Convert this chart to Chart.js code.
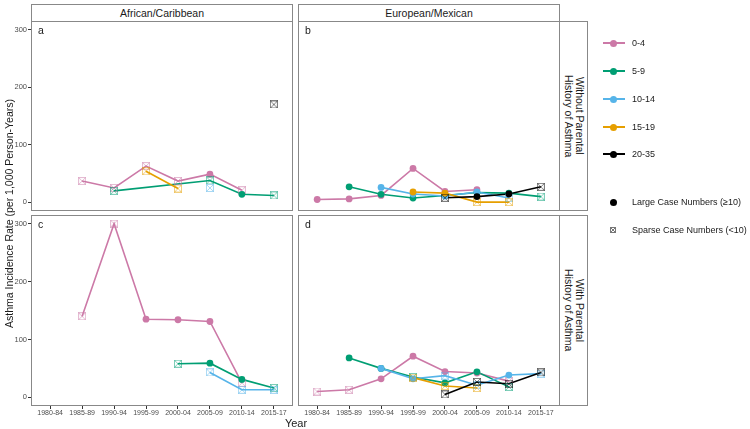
<!DOCTYPE html>
<html>
<head>
<meta charset="utf-8">
<script src="https://cdn.jsdelivr.net/npm/chart.js@4.4.1/dist/chart.umd.min.js"></script>
<style>
  body { margin: 0; background: #fff; font-family: "Liberation Sans", Arial, sans-serif; color: #1a1a1a; }
  #wrap { position: relative; width: 750px; height: 429px; overflow: hidden; }
  canvas, .strip, .lbl, .leg, .txt { position: absolute; }
  .strip { box-sizing: border-box; border: 1px solid #888; background: #fff; font-size: 10.5px;
           display: flex; align-items: center; justify-content: center; }
  .side { writing-mode: vertical-rl; text-align: center; line-height: 11px; }
  .lbl { font-size: 10.5px; line-height: 1; }
  .txt { font-size: 9px; line-height: 1; white-space: nowrap; }
  .ytitle { writing-mode: vertical-rl; transform: rotate(180deg); text-align: center; font-size: 10.5px; line-height: 12px; }
</style>
</head>
<body>
<div id="wrap">
  <div class="strip" style="left:31px;top:4px;width:262px;height:18px">African/Caribbean</div>
  <div class="strip" style="left:298px;top:4px;width:262px;height:18px">European/Mexican</div>
  <div class="strip side" style="left:559px;top:21px;width:29px;height:190px">Without Parental<br>History of Asthma</div>
  <div class="strip side" style="left:559px;top:215px;width:29px;height:191px">With Parental<br>History of Asthma</div>

  <canvas id="pa" width="293" height="190" style="left:0;top:21px"></canvas>
  <canvas id="pb" width="262" height="190" style="left:298px;top:21px"></canvas>
  <canvas id="pc" width="293" height="204" style="left:0;top:215px"></canvas>
  <canvas id="pd" width="262" height="204" style="left:298px;top:215px"></canvas>

  <div class="lbl" style="left:38px;top:25px">a</div>
  <div class="lbl" style="left:305px;top:25px">b</div>
  <div class="lbl" style="left:38px;top:219px">c</div>
  <div class="lbl" style="left:305px;top:219px">d</div>

  <div class="txt ytitle" style="left:3px;top:21px;width:12px;height:385px">Asthma Incidence Rate (per 1,000 Person-Years)</div>
  <div class="txt" style="left:276px;top:418px;width:40px;text-align:center;font-size:11px">Year</div>

  <div id="legend"></div>
</div>

<script>
// Dados
const years = ['1980-84', '1985-89', '1990-94', '1995-99', '2000-04', '2005-09', '2010-14', '2015-17'];
const ageGroups = ['0-4', '5-9', '10-14', '15-19', '20-35'];
const yTicks = [0, 100, 200, 300];

// a: African/Caribbean, sem histórico parental
const a04   = [null, 37, 25, 63, 37, 49, 21, null];
const a59   = [null, null, 20, null, null, 38, 14, 12];
const a1014 = [null, null, null, null, null, 25, null, null];
const a1519 = [null, null, null, 54, 24, null, null, null];
const a2035 = [null, null, null, null, null, null, null, 170];

// b: European/Mexican, sem histórico parental
const b04   = [5, 6, 12, 59, 19, 22, null, null];
const b59   = [null, 27, 14, 7.5, 12, 17, 16, 10];
const b1014 = [null, null, 26, 14.5, 11, 18, 7.5, null];
const b1519 = [null, null, null, 18, 16, 0.5, 0.5, null];
const b2035 = [null, null, null, null, 8, 10, 14.5, 27];

// c: African/Caribbean, com histórico parental
const c04   = [null, 140, 300, 135, 134, 131, 25, null];
const c59   = [null, null, null, null, 58, 59, 31, 16];
const c1014 = [null, null, null, null, null, 43, 13, 13];
const c1519 = [null, null, null, null, null, null, null, null];
const c2035 = [null, null, null, null, null, null, null, null];

// d: European/Mexican, com histórico parental
const d04   = [10, 13, 32, 71, 44.5, 42, 28, null];
const d59   = [null, 68, 50, 35, 25, 44, 18, null];
const d1014 = [null, null, 50, 32, 37.5, 21, 38.5, 41];
const d1519 = [null, null, null, 34, 19.5, 16, null, null];
const d2035 = [null, null, null, null, 5, 26.5, 23.5, 43];

// casos esparsos (<10) = 1
const a04s = [0, 1, 1, 1, 1, 0, 1, 0], a59s = [0, 0, 1, 0, 0, 1, 0, 1], a1014s = [0, 0, 0, 0, 0, 1, 0, 0];
const a1519s = [0, 0, 0, 1, 1, 0, 0, 0], a2035s = [0, 0, 0, 0, 0, 0, 0, 1];
const b04s = [0, 0, 0, 0, 0, 0, 0, 0], b59s = [0, 0, 0, 0, 0, 0, 0, 1], b1014s = [0, 0, 0, 0, 0, 0, 1, 0];
const b1519s = [0, 0, 0, 0, 0, 1, 1, 0], b2035s = [0, 0, 0, 0, 1, 0, 0, 1];
const c04s = [0, 1, 1, 0, 0, 0, 1, 0], c59s = [0, 0, 0, 0, 1, 0, 0, 1], c1014s = [0, 0, 0, 0, 0, 1, 1, 1];
const c1519s = [0, 0, 0, 0, 0, 0, 0, 0], c2035s = [0, 0, 0, 0, 0, 0, 0, 0];
const d04s = [1, 1, 0, 0, 0, 0, 1, 0], d59s = [0, 0, 0, 1, 0, 0, 1, 0], d1014s = [0, 0, 0, 0, 1, 1, 0, 1];
const d1519s = [0, 0, 0, 1, 1, 1, 0, 0], d2035s = [0, 0, 0, 0, 1, 1, 1, 1];

const colors = ['#CC79A7', '#009E73', '#56B4E9', '#E69F00', '#000000'];

function rgba(hex, a) {
    const n = parseInt(hex.slice(1), 16);
    return 'rgba(' + (n >> 16) + ',' + ((n >> 8) & 255) + ',' + (n & 255) + ',' + a + ')';
}

// marcador quadrado com X (casos esparsos)
function boxCross(color, size) {
    const c = document.createElement('canvas');
    c.width = size; c.height = size;
    const g = c.getContext('2d');
    g.strokeStyle = color;
    g.lineWidth = 1;
    const e = size - 0.5;
    g.strokeRect(0.5, 0.5, size - 1, size - 1);
    g.beginPath();
    g.moveTo(0.5, 0.5); g.lineTo(e, e);
    g.moveTo(e, 0.5); g.lineTo(0.5, e);
    g.stroke();
    return c;
}
const sparseMarks = colors.map(c => boxCross(rgba(c, 0.5), 8));

const frame = {
    id: 'frame',
    afterDraw(chart) {
        const a = chart.chartArea, ctx = chart.ctx;
        ctx.save();
        ctx.strokeStyle = '#888';
        ctx.lineWidth = 1;
        ctx.strokeRect(a.left + 0.5, a.top + 0.5, a.right - a.left - 1, a.bottom - a.top - 1);
        ctx.restore();
    }
};

function createPanel(id, values, sparse, showX, showY) {
    const datasets = [];
    values.forEach((vals, g) => {
        const pts = [], styles = [];
        vals.forEach((v, i) => {
            if (v !== null) {
                pts.push({ x: i, y: v });
                styles.push(sparse[g][i] ? sparseMarks[g] : 'circle');
            }
        });
        datasets.push({ data: pts, borderColor: colors[g], borderWidth: 1.6, pointRadius: 0, order: 10 - g });
        datasets.push({ data: pts, showLine: false, backgroundColor: colors[g], pointStyle: styles,
                        pointRadius: 3.4, pointBorderWidth: 0, order: 5 - g });
    });

    new Chart(document.getElementById(id), {
        type: 'line',
        data: { datasets: datasets },
        options: {
            responsive: false,
            animation: false,
            layout: { padding: 0, autoPadding: false },
            plugins: { legend: { display: false }, tooltip: { enabled: false } },
            scales: {
                x: {
                    type: 'linear', min: -0.6, max: 7.6, display: showX,
                    afterBuildTicks: s => { s.ticks = years.map((_, i) => ({ value: i })); },
                    afterFit: s => { if (showX) s.height = 13; s.paddingLeft = 0; s.paddingRight = 0; },
                    ticks: { callback: v => years[v], autoSkip: false, maxRotation: 0,
                             font: { family: 'Liberation Sans', size: 7 }, color: '#4d4d4d', padding: 0 },
                    grid: { drawOnChartArea: false, tickLength: 3, color: '#333' },
                    border: { display: false }
                },
                y: {
                    min: -15, max: 315, display: showY,
                    afterBuildTicks: s => { s.ticks = yTicks.map(v => ({ value: v })); },
                    afterFit: s => { if (showY) s.width = 31; s.paddingTop = 0; s.paddingBottom = 0; },
                    ticks: { font: { family: 'Liberation Sans', size: 7.5 }, color: '#4d4d4d', padding: 1 },
                    grid: { drawOnChartArea: false, tickLength: 3, color: '#333' },
                    border: { display: false }
                }
            }
        },
        plugins: [frame]
    });
}

createPanel('pa', [a04, a59, a1014, a1519, a2035], [a04s, a59s, a1014s, a1519s, a2035s], false, true);
createPanel('pb', [b04, b59, b1014, b1519, b2035], [b04s, b59s, b1014s, b1519s, b2035s], false, false);
createPanel('pc', [c04, c59, c1014, c1519, c2035], [c04s, c59s, c1014s, c1519s, c2035s], true, true);
createPanel('pd', [d04, d59, d1014, d1519, d2035], [d04s, d59s, d1014s, d1519s, d2035s], true, false);

// Legenda
const legend = document.getElementById('legend');
const legendY = [43, 71, 99, 127, 154];
ageGroups.forEach((name, g) => {
    const y = legendY[g];
    legend.insertAdjacentHTML('beforeend',
        '<div class="leg" style="left:603px;top:' + (y - 1) + 'px;width:22px;height:2px;background:' + colors[g] + '"></div>' +
        '<div class="leg" style="left:610px;top:' + (y - 3.5) + 'px;width:7px;height:7px;border-radius:50%;background:' + colors[g] + '"></div>' +
        '<div class="txt" style="left:632px;top:' + (y - 4.5) + 'px">' + name + '</div>');
});
legend.insertAdjacentHTML('beforeend',
    '<div class="leg" style="left:610px;top:198.5px;width:7px;height:7px;border-radius:50%;background:#000"></div>' +
    '<div class="txt" style="left:632px;top:197.5px">Large Case Numbers (\u226510)</div>' +
    '<div class="txt" style="left:632px;top:225.5px">Sparse Case Numbers (&lt;10)</div>');
const key = boxCross('#777', 6);
key.style.left = '610px'; key.style.top = '227px';
legend.appendChild(key);
</script>
</body>
</html>
